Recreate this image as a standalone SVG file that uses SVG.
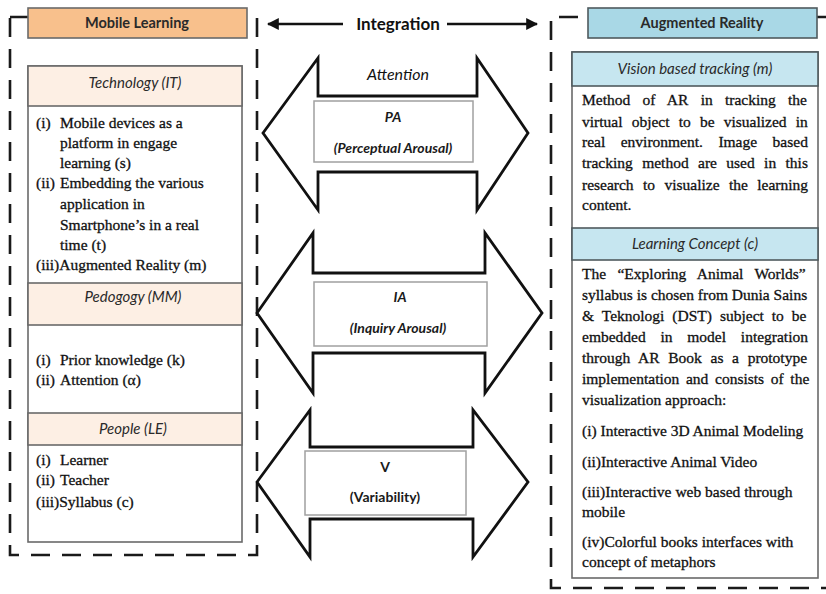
<svg xmlns="http://www.w3.org/2000/svg" width="826" height="594" viewBox="0 0 826 594">
  <defs>
    <marker id="arrowhead" viewBox="0 0 10 10" refX="9" refY="5" markerWidth="5" markerHeight="5" orient="auto-start-reverse" markerUnits="strokeWidth">
      <path d="M0,0 L10,5 L0,10 z" fill="#111"/>
    </marker>
    <style>
      .dash { fill: none; stroke: #1a1a1a; stroke-width: 2.6; stroke-dasharray: 19 12; }
      .frame { fill: #fff; stroke: #6a6a6a; stroke-width: 1.6; }
      .hdr-ml { fill: #f8c08c; stroke: #6a6a6a; stroke-width: 1.6; }
      .hdr-ar { fill: #a9d8e6; stroke: #4f5a5e; stroke-width: 1.6; }
      .sub-ml { fill: #fdefe4; stroke: #6a6a6a; stroke-width: 1.6; }
      .sub-ar { fill: #c6e6f0; stroke: #4f5a5e; stroke-width: 1.6; }
      .big-arrow { fill: #fff; stroke: #111; stroke-width: 2.8; stroke-linejoin: miter; }
      .inbox { fill: #fff; stroke: #a0a0a0; stroke-width: 1.5; }
      .conn { fill: none; stroke: #111; stroke-width: 2.4; }
      .title { font-family: Lato, "Open Sans", "Liberation Sans", sans-serif; font-size: 14.5px; font-weight: bold; fill: #2a2a2a; text-anchor: middle; }
      .sub { font-family: Lato, "Open Sans", "Liberation Sans", sans-serif; font-size: 15px; font-style: italic; fill: #2a2a2a; text-anchor: middle; }
      .lbl { font-family: Lato, "Open Sans", "Liberation Sans", sans-serif; font-size: 14px; font-style: italic; font-weight: bold; fill: #1a1a1a; text-anchor: middle; }
      .plain { font-family: Lato, "Open Sans", "Liberation Sans", sans-serif; font-size: 14px; font-weight: bold; fill: #1a1a1a; text-anchor: middle; }
      .integ { font-family: Lato, "Open Sans", "Liberation Sans", sans-serif; font-size: 17px; font-weight: bold; fill: #111; text-anchor: middle; }
      .att { font-family: Lato, "Open Sans", "Liberation Sans", sans-serif; font-size: 16px; font-style: italic; fill: #111; text-anchor: middle; }
      .body { font-family: "Liberation Serif", "Times New Roman", serif; font-size: 15.5px; fill: #111; stroke: #111; stroke-width: 0.3; }
    </style>
  </defs>

  <!-- dashed group outlines -->
  <rect class="dash" x="10" y="17" width="247" height="538"/>
  <path class="dash" d="M826,17 H551 V588 H826"/>

  <!-- connectors -->
  <g id="connectors">
    <line class="conn" x1="343" y1="24" x2="268" y2="24" marker-end="url(#arrowhead)"/>
    <line class="conn" x1="447" y1="24" x2="537" y2="24" marker-end="url(#arrowhead)"/>
    <text class="integ" x="398" y="30">Integration</text>
  </g>

  <!-- Mobile Learning column -->
  <g id="mobile-learning">
    <rect class="hdr-ml" x="28" y="8" width="219" height="30"/>
    <text class="title" x="137" y="28">Mobile Learning</text>
  </g>

  <g id="technology">
    <rect class="frame" x="28" y="66" width="214" height="476"/>
    <rect class="sub-ml" x="28" y="66" width="214" height="40"/>
    <text class="sub" x="135" y="88">Technology (IT)</text>
    <text class="body">
      <tspan x="36" y="128">(i)</tspan><tspan x="60" y="128">Mobile devices as a</tspan>
      <tspan x="60" y="148">platform in  engage</tspan>
      <tspan x="60" y="168">learning (s)</tspan>
      <tspan x="36" y="188">(ii)</tspan><tspan x="60" y="188">Embedding the various</tspan>
      <tspan x="60" y="209">application in</tspan>
      <tspan x="60" y="230">Smartphone’s in a real</tspan>
      <tspan x="60" y="250">time (t)</tspan>
      <tspan x="36" y="270">(iii)Augmented Reality  (m)</tspan>
    </text>
  </g>

  <g id="pedagogy">
    <rect class="sub-ml" x="28" y="283" width="214" height="42"/>
    <text class="sub" x="133" y="302">Pedogogy (MM)</text>
    <text class="body">
      <tspan x="36" y="365">(i)</tspan><tspan x="60" y="365">Prior knowledge (k)</tspan>
      <tspan x="36" y="385">(ii)</tspan><tspan x="60" y="385">Attention (α)</tspan>
    </text>
  </g>

  <g id="people">
    <rect class="sub-ml" x="28" y="413" width="214" height="32"/>
    <text class="sub" x="133" y="434">People (LE)</text>
    <text class="body">
      <tspan x="36" y="465">(i)</tspan><tspan x="60" y="465">Learner</tspan>
      <tspan x="36" y="485">(ii)</tspan><tspan x="60" y="485">Teacher</tspan>
      <tspan x="36" y="507">(iii)Syllabus (c)</tspan>
    </text>
  </g>

  <!-- Integration arrows -->
  <g id="attention-pa">
    <polygon class="big-arrow" points="263,133 318,58 318,96 477,96 477,58 528,133 477,210 477,172 318,172 318,210"/>
    <text class="att" x="398" y="80">Attention</text>
    <rect class="inbox" x="314" y="101" width="159" height="61"/>
    <text class="lbl" x="393" y="122">PA</text>
    <text class="lbl" x="393" y="153">(Perceptual Arousal)</text>
  </g>

  <g id="inquiry-ia">
    <polygon class="big-arrow" points="257,313 313,233 313,273 485,273 485,233 542,313 485,393 485,353 313,353 313,393"/>
    <rect class="inbox" x="314" y="282" width="173" height="64"/>
    <text class="lbl" x="400" y="302">IA</text>
    <text class="lbl" x="398" y="333">(Inquiry Arousal)</text>
  </g>

  <g id="variability-v">
    <polygon class="big-arrow" points="257,482 310,410 310,447 473,447 473,410 528,482 473,557 473,519 310,519 310,557"/>
    <rect class="inbox" x="305" y="451" width="161" height="64"/>
    <text class="plain" x="385" y="472">V</text>
    <text class="plain" x="385" y="502">(Variability)</text>
  </g>

  <!-- Augmented Reality column -->
  <g id="augmented-reality">
    <rect class="hdr-ar" x="588" y="8" width="229" height="30"/>
    <text class="title" x="702" y="28">Augmented Reality</text>
  </g>

  <g id="vision-tracking">
    <rect class="frame" x="572" y="52" width="246" height="526"/>
    <rect class="sub-ar" x="572" y="52" width="246" height="34"/>
    <text class="sub" x="695" y="74">Vision based tracking (m)</text>
    <text class="body" x="582" y="105" word-spacing="8.4">Method of AR in tracking the</text>
    <text class="body" x="582" y="127" word-spacing="5.3">virtual object to be visualized in</text>
    <text class="body" x="582" y="147" word-spacing="11.6">real environment. Image based</text>
    <text class="body" x="582" y="168" word-spacing="5.5">tracking method are used in this</text>
    <text class="body" x="582" y="190" word-spacing="5.5">research to visualize the learning</text>
    <text class="body" x="582" y="210">content.</text>
  </g>

  <g id="learning-concept">
    <rect class="sub-ar" x="572" y="228" width="246" height="32"/>
    <text class="sub" x="695" y="249">Learning Concept (c)</text>
    <text class="body" x="582" y="279" word-spacing="7.5">The “Exploring Animal Worlds”</text>
    <text class="body" x="582" y="300">syllabus is chosen from Dunia Sains</text>
    <text class="body" x="582" y="321" word-spacing="4.1">&amp; Teknologi (DST) subject to be</text>
    <text class="body" x="582" y="342" word-spacing="10.9">embedded in model integration</text>
    <text class="body" x="582" y="363" word-spacing="4.8">through AR Book as a prototype</text>
    <text class="body" x="582" y="384" word-spacing="2.8">implementation and consists of the</text>
    <text class="body" x="582" y="405">visualization approach:</text>
    <text class="body" x="582" y="436">(i) Interactive 3D Animal Modeling</text>
    <text class="body" x="582" y="467">(ii)Interactive Animal Video</text>
    <text class="body" x="582" y="497">(iii)Interactive web based through</text>
    <text class="body" x="582" y="517">mobile</text>
    <text class="body" x="582" y="547">(iv)Colorful books interfaces with</text>
    <text class="body" x="582" y="567">concept of metaphors</text>
  </g>
</svg>
